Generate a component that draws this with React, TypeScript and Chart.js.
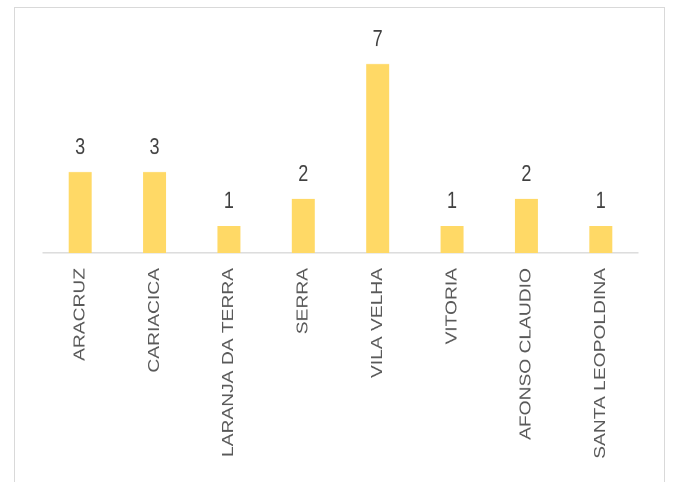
import React, { useEffect, useRef } from "react";
import { Chart, registerables } from "chart.js";

Chart.register(...registerables);

const categories = [
  "ARACRUZ",
  "CARIACICA",
  "LARANJA DA TERRA",
  "SERRA",
  "VILA VELHA",
  "VITORIA",
  "AFONSO CLAUDIO",
  "SANTA LEOPOLDINA",
];
const values = [3, 3, 1, 2, 7, 1, 2, 1];

const W = 673;
const H = 482;
const CH = 386; // canvas drawing height (stretched to H via CSS)

const dataLabels = {
  id: "dataLabels",
  afterDatasetsDraw(chart: any) {
    const ctx = chart.ctx;
    const meta = chart.getDatasetMeta(0);
    ctx.save();
    ctx.fillStyle = "#404040";
    ctx.font = '18px "Liberation Sans", Arial, sans-serif';
    ctx.textAlign = "center";
    ctx.textBaseline = "alphabetic";
    meta.data.forEach((bar: any, i: number) => {
      ctx.fillText(String(values[i]), bar.x, bar.y - 14.4);
    });
    ctx.restore();
  },
};

export default function App() {
  const ref = useRef<HTMLCanvasElement | null>(null);
  useEffect(() => {
    if (!ref.current) return;
    const chart = new Chart(ref.current, {
      type: "bar",
      data: {
        labels: categories,
        datasets: [
          {
            data: values,
            backgroundColor: "#FFD966",
            borderWidth: 0,
            barPercentage: 1,
            categoryPercentage: 0.309,
          },
        ],
      },
      options: {
        responsive: false,
        animation: false,
        devicePixelRatio: 2,
        layout: { padding: { left: 43, right: 35, top: 29.6, bottom: 0 } },
        plugins: {
          legend: { display: false },
          tooltip: { enabled: false },
          title: { display: false },
        },
        scales: {
          y: {
            display: false,
            min: 0,
            max: 8,
          },
          x: {
            grid: { display: false, drawTicks: false },
            border: { display: true, color: "#d9d9d9", width: 1 },
            afterFit(scale: any) {
              scale.height = CH - 202.6;
            },
            ticks: {
              autoSkip: false,
              maxRotation: 90,
              minRotation: 90,
              padding: 12,
              color: "#595959",
              font: { family: '"Liberation Sans", Arial, sans-serif', size: 15.4 },
            },
          },
        },
      },
      plugins: [dataLabels],
    });
    return () => chart.destroy();
  }, []);

  return (
    <div
      style={{
        position: "fixed",
        left: 0,
        top: 0,
        width: W,
        height: H,
        overflow: "hidden",
        background: "#ffffff",
      }}
    >
      <div
        style={{
          position: "absolute",
          left: 14,
          top: 7,
          width: 651,
          height: 500,
          border: "1.5px solid #d9d9d9",
          boxSizing: "border-box",
        }}
      />
      <canvas
        ref={ref}
        width={W}
        height={CH}
        style={{ position: "absolute", left: 0, top: 0, width: W + "px", height: H + "px" }}
      />
    </div>
  );
}
